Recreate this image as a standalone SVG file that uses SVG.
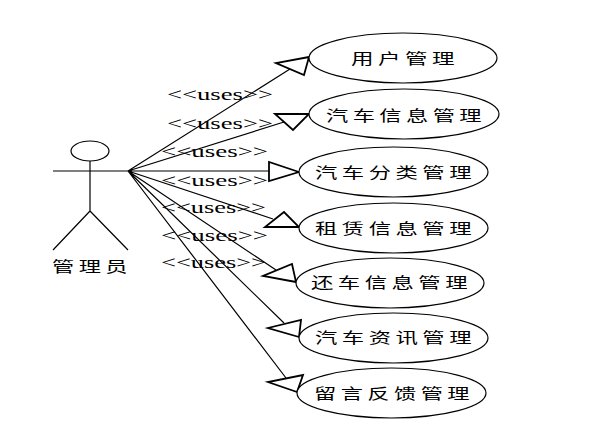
<svg xmlns="http://www.w3.org/2000/svg" width="603" height="430" viewBox="0 0 603 430">
<style>
.o{fill:#fff;stroke:#000;stroke-width:1.2}
.l{fill:none;stroke:#000;stroke-width:1.2}
.t{fill:#fff;stroke:#000;stroke-width:1.8;stroke-linejoin:miter}
.c{font-family:"Noto Sans CJK SC",sans-serif;font-size:15px;letter-spacing:3px;fill:#000}
.u{font-family:"Liberation Serif",serif;font-size:16px;fill:#000}
</style>
<rect width="603" height="430" fill="#fff"/>
<g id="connectors">
<path class="l" d="M128 171L290 69M128 171L284 122M128 171L269 171M128 171L273 219M128 171L276 270M128 171L284 323M128 171L286 378"/>
<polygon class="t" points="309,57 276,63 304,75"/>
<polygon class="t" points="309,114 275,114 293,130"/>
<polygon class="t" points="299,172 269,162 269,181"/>
<polygon class="t" points="299,227 265,227 284,212"/>
<polygon class="t" points="296,282 263,276 292,264"/>
<polygon class="t" points="299,337 268,328 301,320"/>
<polygon class="t" points="297,392 268,382 303,375"/>
</g>
<g id="labels">
<text class="u" x="167" y="100" textLength="106" lengthAdjust="spacingAndGlyphs">&lt;&lt;uses&gt;&gt;</text>
<text class="u" x="167" y="129" textLength="106" lengthAdjust="spacingAndGlyphs">&lt;&lt;uses&gt;&gt;</text>
<text class="u" x="161" y="157" textLength="107" lengthAdjust="spacingAndGlyphs">&lt;&lt;uses&gt;&gt;</text>
<text class="u" x="161" y="186" textLength="107" lengthAdjust="spacingAndGlyphs">&lt;&lt;uses&gt;&gt;</text>
<text class="u" x="161" y="213" textLength="105" lengthAdjust="spacingAndGlyphs">&lt;&lt;uses&gt;&gt;</text>
<text class="u" x="161" y="241" textLength="107" lengthAdjust="spacingAndGlyphs">&lt;&lt;uses&gt;&gt;</text>
<text class="u" x="161" y="268" textLength="105" lengthAdjust="spacingAndGlyphs">&lt;&lt;uses&gt;&gt;</text>
</g>
<g id="actor">
<ellipse class="o" cx="90" cy="151" rx="19" ry="10"/>
<path class="l" d="M90 161V211M53 171H128M90 211L53 250M90 211L128 250"/>
<text class="c" x="52" y="272" textLength="80" lengthAdjust="spacingAndGlyphs">管理员</text>
</g>
<g id="u1"><ellipse class="o" cx="403" cy="58" rx="94" ry="25"/><text class="c" x="351" y="64" textLength="108" lengthAdjust="spacingAndGlyphs">用户管理</text></g>
<g id="u2"><ellipse class="o" cx="404" cy="114" rx="95" ry="25"/><text class="c" x="326" y="121" textLength="160" lengthAdjust="spacingAndGlyphs">汽车信息管理</text></g>
<g id="u3"><ellipse class="o" cx="393.500" cy="172" rx="94.500" ry="25"/><text class="c" x="315" y="178" textLength="161" lengthAdjust="spacingAndGlyphs">汽车分类管理</text></g>
<g id="u4"><ellipse class="o" cx="393.500" cy="228" rx="94.500" ry="25"/><text class="c" x="315" y="234" textLength="161" lengthAdjust="spacingAndGlyphs">租赁信息管理</text></g>
<g id="u5"><ellipse class="o" cx="390" cy="283" rx="94" ry="25"/><text class="c" x="311" y="288" textLength="161" lengthAdjust="spacingAndGlyphs">还车信息管理</text></g>
<g id="u6"><ellipse class="o" cx="393.500" cy="338" rx="94.500" ry="25"/><text class="c" x="315" y="343" textLength="161" lengthAdjust="spacingAndGlyphs">汽车资讯管理</text></g>
<g id="u7"><ellipse class="o" cx="391.500" cy="393" rx="94.500" ry="25"/><text class="c" x="314" y="399" textLength="160" lengthAdjust="spacingAndGlyphs">留言反馈管理</text></g>
</svg>
